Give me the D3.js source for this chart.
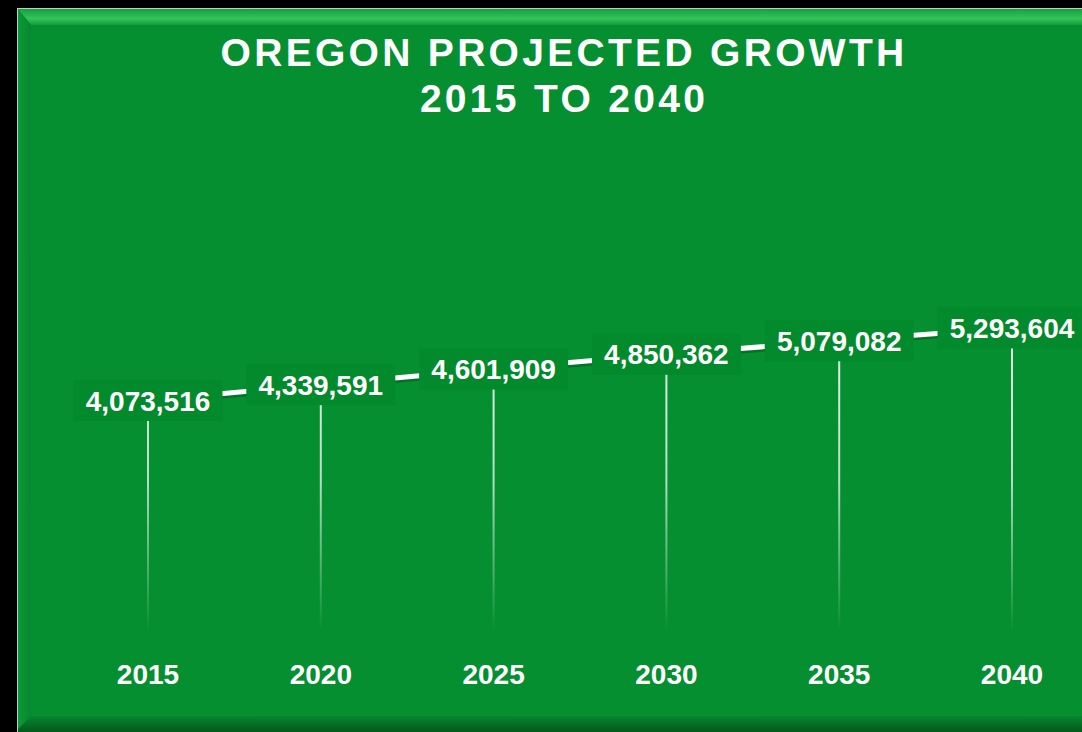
<!DOCTYPE html>
<html>
<head>
<meta charset="utf-8">
<script src="https://cdn.jsdelivr.net/npm/d3@7"></script>
<style>
  html, body { margin: 0; padding: 0; background: #000; }
  svg { display: block; }
  text { font-family: "Liberation Sans", Arial, sans-serif; font-weight: bold; fill: #fff; }
</style>
</head>
<body>
<svg id="chart" width="1082" height="732"></svg>
<script>
// Oregon population projection, five-year steps
const years = ["2015", "2020", "2025", "2030", "2035", "2040"];
const population = [4073516, 4339591, 4601909, 4850362, 5079082, 5293604];
const titleLines = ["OREGON PROJECTED GROWTH", "2015 TO 2040"];

const W = 1082, H = 732;
const svg = d3.select("#chart");
const defs = svg.append("defs");

// ---- framed green panel with bevelled edges ----
const panel = { x: 17.5, y: 8.5, w: 1100, h: 730 };
const green = "#058f31";

const topGrad = defs.append("linearGradient").attr("id", "bevelTop")
  .attr("x1", 0).attr("y1", 0).attr("x2", 0).attr("y2", 1);
topGrad.append("stop").attr("offset", 0).attr("stop-color", "#14a23e");
topGrad.append("stop").attr("offset", 0.6).attr("stop-color", "#34c35b");
topGrad.append("stop").attr("offset", 1).attr("stop-color", "#149c3b");

const leftGrad = defs.append("linearGradient").attr("id", "bevelLeft")
  .attr("x1", 0).attr("y1", 0).attr("x2", 1).attr("y2", 0);
leftGrad.append("stop").attr("offset", 0).attr("stop-color", "#0a9a36");
leftGrad.append("stop").attr("offset", 1).attr("stop-color", "#07872e");

const botGrad = defs.append("linearGradient").attr("id", "bevelBottom")
  .attr("x1", 0).attr("y1", 0).attr("x2", 0).attr("y2", 1);
botGrad.append("stop").attr("offset", 0).attr("stop-color", "#07862e");
botGrad.append("stop").attr("offset", 1).attr("stop-color", "#02561c");

svg.append("rect")
  .attr("x", panel.x).attr("y", panel.y)
  .attr("width", panel.w).attr("height", panel.h)
  .attr("fill", green).attr("stroke", "#c9c9c9").attr("stroke-width", 1);

const bev = 13;
const x0 = panel.x + 0.5, y0 = panel.y + 0.5;
const x1 = panel.x + panel.w, yb = 729;
svg.append("path")
  .attr("d", `M${x0},${y0}L${x1},${y0}L${x1 - bev},${y0 + bev + 3}L${x0 + bev},${y0 + bev + 3}Z`)
  .attr("fill", "url(#bevelTop)");
svg.append("path")
  .attr("d", `M${x0},${y0}L${x0 + bev},${y0 + bev + 3}L${x0 + bev},${yb - bev}L${x0},${yb}Z`)
  .attr("fill", "url(#bevelLeft)");
svg.append("path")
  .attr("d", `M${x0},${yb + 4}L${x0},${yb}L${x0 + bev},${yb - bev}L${x1 - bev},${yb - bev}L${x1},${yb}L${x1},${yb + 4}Z`)
  .attr("fill", "url(#bevelBottom)");

// ---- title ----
const title = svg.append("text")
  .attr("text-anchor", "middle")
  .style("font-size", "39px")
  .style("letter-spacing", "3.3px");
titleLines.forEach((t, i) => {
  title.append("tspan").attr("x", 564).attr("y", 66 + i * 46).text(t);
});

// ---- scales ----
const x = d3.scaleBand().domain(years).range([61.6, 1098.4]).padding(0);
const y = d3.scaleLinear().domain([0, 6000000]).range([642.5, 286]);
const cx = d => x(d) + x.bandwidth() / 2;

// ---- drop lines fading toward the axis ----
const dropGrad = defs.append("linearGradient").attr("id", "dropFade")
  .attr("gradientUnits", "userSpaceOnUse")
  .attr("x1", 0).attr("y1", 330).attr("x2", 0).attr("y2", 632);
dropGrad.append("stop").attr("offset", 0).attr("stop-color", "#fff").attr("stop-opacity", 0.9);
dropGrad.append("stop").attr("offset", 0.5).attr("stop-color", "#fff").attr("stop-opacity", 0.7);
dropGrad.append("stop").attr("offset", 1).attr("stop-color", "#fff").attr("stop-opacity", 0);

svg.append("g").selectAll("line")
  .data(years)
  .join("line")
  .attr("x1", d => cx(d)).attr("x2", d => cx(d))
  .attr("y1", (d, i) => y(population[i]))
  .attr("y2", y(0))
  .attr("stroke", "url(#dropFade)")
  .attr("stroke-width", 2);

// ---- series line with soft shadow ----
const pts = years.map((d, i) => [cx(d), y(population[i])]);
const line = d3.line();
svg.append("path")
  .attr("d", line(pts))
  .attr("transform", "translate(0,3)")
  .attr("fill", "none")
  .attr("stroke", "#035a1e").attr("stroke-opacity", 0.55)
  .attr("stroke-width", 4);
svg.append("path")
  .attr("d", line(pts))
  .attr("fill", "none")
  .attr("stroke", "#fff")
  .attr("stroke-width", 5);

// ---- value labels on boxes ----
const fmt = d3.format(",");
const labels = svg.append("g").selectAll("g")
  .data(years)
  .join("g")
  .attr("transform", (d, i) => `translate(${cx(d)},${y(population[i])})`);
labels.append("rect")
  .attr("x", -74.5).attr("y", -20.5)
  .attr("width", 149).attr("height", 41)
  .attr("fill", "#038a2c");
labels.append("text")
  .attr("text-anchor", "middle")
  .attr("dy", "0.36em")
  .style("font-size", "28px")
  .text((d, i) => fmt(population[i]));

// ---- category axis ----
const axis = svg.append("g")
  .attr("transform", `translate(0,${y(0)})`)
  .call(d3.axisBottom(x).tickSize(0).tickPadding(22));
axis.select(".domain").remove();
axis.selectAll("text")
  .attr("fill", "#fff")
  .style("font-family", "'Liberation Sans', Arial, sans-serif")
  .style("font-weight", "bold")
  .style("font-size", "28px");
</script>
</body>
</html>
